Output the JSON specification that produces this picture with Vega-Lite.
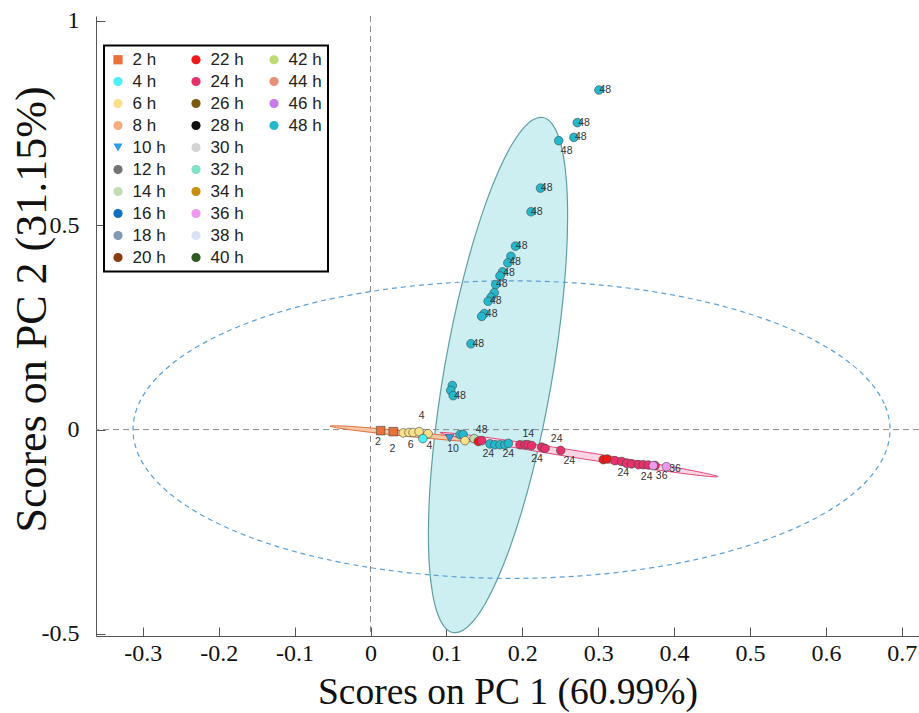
{
  "$schema": "https://vega.github.io/schema/vega-lite/v6.json",
  "width": 823,
  "height": 620,
  "autosize": "none",
  "padding": {"left": 96, "top": 16, "right": 0, "bottom": 77},
  "background": "#ffffff",
  "config": {
    "view": {"stroke": null},
    "legend": {"strokeWidth": 2},
    "axis": {"labelFont": "Liberation Serif", "labelFontSize": 24, "labelColor": "#111111", "titleFont": "Liberation Serif", "titleFontWeight": "normal", "titleColor": "#111111", "grid": false, "domainColor": "#555555", "tickColor": "#555555", "tickSize": -9}
  },
  "datasets": {
    "pts": [
      {"pc1": 0.0134, "pc2": -0.0025, "t": "2 h"},
      {"pc1": 0.030, "pc2": -0.005, "t": "2 h"},
      {"pc1": 0.0432, "pc2": -0.008, "t": "6 h"},
      {"pc1": 0.0507, "pc2": -0.007, "t": "6 h"},
      {"pc1": 0.056, "pc2": -0.007, "t": "6 h"},
      {"pc1": 0.064, "pc2": -0.005, "t": "6 h"},
      {"pc1": 0.0758, "pc2": -0.010, "t": "6 h"},
      {"pc1": 0.069, "pc2": -0.022, "t": "4 h"},
      {"pc1": 0.1043, "pc2": -0.021, "t": "10 h"},
      {"pc1": 0.118, "pc2": -0.012, "t": "48 h"},
      {"pc1": 0.122, "pc2": -0.012, "t": "48 h"},
      {"pc1": 0.1245, "pc2": -0.027, "t": "6 h"},
      {"pc1": 0.1364, "pc2": -0.022, "t": "14 h"},
      {"pc1": 0.142, "pc2": -0.029, "t": "22 h"},
      {"pc1": 0.1465, "pc2": -0.027, "t": "24 h"},
      {"pc1": 0.1574, "pc2": -0.035, "t": "48 h"},
      {"pc1": 0.164, "pc2": -0.037, "t": "48 h"},
      {"pc1": 0.1706, "pc2": -0.037, "t": "48 h"},
      {"pc1": 0.177, "pc2": -0.037, "t": "48 h"},
      {"pc1": 0.1816, "pc2": -0.0336, "t": "48 h"},
      {"pc1": 0.197, "pc2": -0.037, "t": "24 h"},
      {"pc1": 0.2036, "pc2": -0.037, "t": "24 h"},
      {"pc1": 0.2075, "pc2": -0.037, "t": "24 h"},
      {"pc1": 0.2124, "pc2": -0.039, "t": "24 h"},
      {"pc1": 0.2256, "pc2": -0.043, "t": "24 h"},
      {"pc1": 0.230, "pc2": -0.046, "t": "24 h"},
      {"pc1": 0.2506, "pc2": -0.051, "t": "24 h"},
      {"pc1": 0.3067, "pc2": -0.0735, "t": "22 h"},
      {"pc1": 0.312, "pc2": -0.072, "t": "22 h"},
      {"pc1": 0.322, "pc2": -0.076, "t": "24 h"},
      {"pc1": 0.331, "pc2": -0.078, "t": "24 h"},
      {"pc1": 0.3375, "pc2": -0.0826, "t": "24 h"},
      {"pc1": 0.344, "pc2": -0.084, "t": "24 h"},
      {"pc1": 0.353, "pc2": -0.0858, "t": "24 h"},
      {"pc1": 0.3594, "pc2": -0.0858, "t": "24 h"},
      {"pc1": 0.366, "pc2": -0.0865, "t": "24 h"},
      {"pc1": 0.375, "pc2": -0.088, "t": "24 h"},
      {"pc1": 0.3726, "pc2": -0.088, "t": "36 h"},
      {"pc1": 0.390, "pc2": -0.0907, "t": "36 h"},
      {"pc1": 0.301, "pc2": 0.831, "t": "48 h"},
      {"pc1": 0.2725, "pc2": 0.751, "t": "48 h"},
      {"pc1": 0.268, "pc2": 0.715, "t": "48 h"},
      {"pc1": 0.248, "pc2": 0.707, "t": "48 h"},
      {"pc1": 0.224, "pc2": 0.591, "t": "48 h"},
      {"pc1": 0.2115, "pc2": 0.533, "t": "48 h"},
      {"pc1": 0.191, "pc2": 0.449, "t": "48 h"},
      {"pc1": 0.185, "pc2": 0.424, "t": "48 h"},
      {"pc1": 0.181, "pc2": 0.408, "t": "48 h"},
      {"pc1": 0.174, "pc2": 0.386, "t": "48 h"},
      {"pc1": 0.1706, "pc2": 0.376, "t": "48 h"},
      {"pc1": 0.165, "pc2": 0.355, "t": "48 h"},
      {"pc1": 0.163, "pc2": 0.335, "t": "48 h"},
      {"pc1": 0.159, "pc2": 0.324, "t": "48 h"},
      {"pc1": 0.155, "pc2": 0.314, "t": "48 h"},
      {"pc1": 0.150, "pc2": 0.284, "t": "48 h"},
      {"pc1": 0.1465, "pc2": 0.277, "t": "48 h"},
      {"pc1": 0.1324, "pc2": 0.210, "t": "48 h"},
      {"pc1": 0.1078, "pc2": 0.108, "t": "48 h"},
      {"pc1": 0.1057, "pc2": 0.096, "t": "48 h"},
      {"pc1": 0.109, "pc2": 0.083, "t": "48 h"}
    ],
    "lbls": [
      {"pc1": 0.3094, "pc2": 0.831, "txt": "48"},
      {"pc1": 0.2813, "pc2": 0.751, "txt": "48"},
      {"pc1": 0.277, "pc2": 0.715, "txt": "48"},
      {"pc1": 0.2585, "pc2": 0.681, "txt": "48"},
      {"pc1": 0.2321, "pc2": 0.591, "txt": "48"},
      {"pc1": 0.219, "pc2": 0.533, "txt": "48"},
      {"pc1": 0.1992, "pc2": 0.449, "txt": "48"},
      {"pc1": 0.1904, "pc2": 0.409, "txt": "48"},
      {"pc1": 0.1825, "pc2": 0.383, "txt": "48"},
      {"pc1": 0.1729, "pc2": 0.3554, "txt": "48"},
      {"pc1": 0.165, "pc2": 0.3137, "txt": "48"},
      {"pc1": 0.1597, "pc2": 0.2836, "txt": "48"},
      {"pc1": 0.142, "pc2": 0.2105, "txt": "48"},
      {"pc1": 0.1179, "pc2": 0.0833, "txt": "48"},
      {"pc1": 0.0675, "pc2": 0.033, "txt": "4"},
      {"pc1": 0.0099, "pc2": -0.0306, "txt": "2"},
      {"pc1": 0.029, "pc2": -0.0466, "txt": "2"},
      {"pc1": 0.053, "pc2": -0.038, "txt": "6"},
      {"pc1": 0.0777, "pc2": -0.0392, "txt": "4"},
      {"pc1": 0.1087, "pc2": -0.0466, "txt": "10"},
      {"pc1": 0.1465, "pc2": -0.0012, "txt": "48"},
      {"pc1": 0.1552, "pc2": -0.0596, "txt": "24"},
      {"pc1": 0.1816, "pc2": -0.0596, "txt": "24"},
      {"pc1": 0.2079, "pc2": -0.0105, "txt": "14"},
      {"pc1": 0.2194, "pc2": -0.0718, "txt": "24"},
      {"pc1": 0.2453, "pc2": -0.0228, "txt": "24"},
      {"pc1": 0.2619, "pc2": -0.076, "txt": "24"},
      {"pc1": 0.3331, "pc2": -0.1071, "txt": "24"},
      {"pc1": 0.3639, "pc2": -0.1169, "txt": "24"},
      {"pc1": 0.3837, "pc2": -0.1127, "txt": "36"},
      {"pc1": 0.4012, "pc2": -0.0963, "txt": "36"}
    ],
    "bigEll": [
      {"i": 0, "pc1": 0.6845, "pc2": 0},
      {"i": 1, "pc1": 0.6769, "pc2": 0.0632},
      {"i": 2, "pc1": 0.6544, "pc2": 0.1245},
      {"i": 3, "pc1": 0.6177, "pc2": 0.182},
      {"i": 4, "pc1": 0.5678, "pc2": 0.234},
      {"i": 5, "pc1": 0.5064, "pc2": 0.2788},
      {"i": 6, "pc1": 0.4352, "pc2": 0.3152},
      {"i": 7, "pc1": 0.3564, "pc2": 0.342},
      {"i": 8, "pc1": 0.2724, "pc2": 0.3585},
      {"i": 9, "pc1": 0.1858, "pc2": 0.364},
      {"i": 10, "pc1": 0.0992, "pc2": 0.3585},
      {"i": 11, "pc1": 0.0152, "pc2": 0.342},
      {"i": 12, "pc1": -0.0636, "pc2": 0.3152},
      {"i": 13, "pc1": -0.1348, "pc2": 0.2788},
      {"i": 14, "pc1": -0.1962, "pc2": 0.234},
      {"i": 15, "pc1": -0.2461, "pc2": 0.182},
      {"i": 16, "pc1": -0.2828, "pc2": 0.1245},
      {"i": 17, "pc1": -0.3053, "pc2": 0.0632},
      {"i": 18, "pc1": -0.3129, "pc2": 0},
      {"i": 19, "pc1": -0.3053, "pc2": -0.0632},
      {"i": 20, "pc1": -0.2828, "pc2": -0.1245},
      {"i": 21, "pc1": -0.2461, "pc2": -0.182},
      {"i": 22, "pc1": -0.1962, "pc2": -0.234},
      {"i": 23, "pc1": -0.1348, "pc2": -0.2788},
      {"i": 24, "pc1": -0.0636, "pc2": -0.3152},
      {"i": 25, "pc1": 0.0152, "pc2": -0.342},
      {"i": 26, "pc1": 0.0992, "pc2": -0.3585},
      {"i": 27, "pc1": 0.1858, "pc2": -0.364},
      {"i": 28, "pc1": 0.2724, "pc2": -0.3585},
      {"i": 29, "pc1": 0.3564, "pc2": -0.342},
      {"i": 30, "pc1": 0.4352, "pc2": -0.3152},
      {"i": 31, "pc1": 0.5064, "pc2": -0.2788},
      {"i": 32, "pc1": 0.5678, "pc2": -0.234},
      {"i": 33, "pc1": 0.6177, "pc2": -0.182},
      {"i": 34, "pc1": 0.6544, "pc2": -0.1245},
      {"i": 35, "pc1": 0.6769, "pc2": -0.0632}
    ],
    "cyanEll": [
      {"i": 0, "pc1": 0.2272, "pc2": 0.7637},
      {"i": 1, "pc1": 0.2384, "pc2": 0.7501},
      {"i": 2, "pc1": 0.2476, "pc2": 0.7179},
      {"i": 3, "pc1": 0.2543, "pc2": 0.6679},
      {"i": 4, "pc1": 0.2584, "pc2": 0.6017},
      {"i": 5, "pc1": 0.2597, "pc2": 0.5212},
      {"i": 6, "pc1": 0.2583, "pc2": 0.429},
      {"i": 7, "pc1": 0.2541, "pc2": 0.3277},
      {"i": 8, "pc1": 0.2473, "pc2": 0.2206},
      {"i": 9, "pc1": 0.2381, "pc2": 0.1108},
      {"i": 10, "pc1": 0.2268, "pc2": 0.0018},
      {"i": 11, "pc1": 0.2136, "pc2": -0.1033},
      {"i": 12, "pc1": 0.1991, "pc2": -0.2012},
      {"i": 13, "pc1": 0.1837, "pc2": -0.2888},
      {"i": 14, "pc1": 0.1677, "pc2": -0.3637},
      {"i": 15, "pc1": 0.1518, "pc2": -0.4235},
      {"i": 16, "pc1": 0.1364, "pc2": -0.4663},
      {"i": 17, "pc1": 0.1219, "pc2": -0.4909},
      {"i": 18, "pc1": 0.1088, "pc2": -0.4965},
      {"i": 19, "pc1": 0.0976, "pc2": -0.483},
      {"i": 20, "pc1": 0.0884, "pc2": -0.4507},
      {"i": 21, "pc1": 0.0817, "pc2": -0.4007},
      {"i": 22, "pc1": 0.0776, "pc2": -0.3345},
      {"i": 23, "pc1": 0.0763, "pc2": -0.254},
      {"i": 24, "pc1": 0.0777, "pc2": -0.1618},
      {"i": 25, "pc1": 0.0819, "pc2": -0.0605},
      {"i": 26, "pc1": 0.0887, "pc2": 0.0466},
      {"i": 27, "pc1": 0.0979, "pc2": 0.1564},
      {"i": 28, "pc1": 0.1092, "pc2": 0.2654},
      {"i": 29, "pc1": 0.1224, "pc2": 0.3705},
      {"i": 30, "pc1": 0.1369, "pc2": 0.4684},
      {"i": 31, "pc1": 0.1523, "pc2": 0.556},
      {"i": 32, "pc1": 0.1683, "pc2": 0.6309},
      {"i": 33, "pc1": 0.1842, "pc2": 0.6907},
      {"i": 34, "pc1": 0.1996, "pc2": 0.7335},
      {"i": 35, "pc1": 0.2141, "pc2": 0.7581}
    ],
    "orangeEll": [
      {"i": 0, "pc1": 0.1509, "pc2": -0.0294},
      {"i": 1, "pc1": 0.1207, "pc2": -0.0282},
      {"i": 2, "pc1": 0.0484, "pc2": -0.0165},
      {"i": 3, "pc1": -0.0237, "pc2": -0.0012},
      {"i": 4, "pc1": -0.0534, "pc2": 0.0086},
      {"i": 5, "pc1": -0.0232, "pc2": 0.0074},
      {"i": 6, "pc1": 0.0491, "pc2": -0.0043},
      {"i": 7, "pc1": 0.1212, "pc2": -0.0196}
    ],
    "pinkEll": [
      {"i": 0, "pc1": 0.4578, "pc2": -0.1152},
      {"i": 1, "pc1": 0.4037, "pc2": -0.1054},
      {"i": 2, "pc1": 0.274, "pc2": -0.0698},
      {"i": 3, "pc1": 0.1447, "pc2": -0.0292},
      {"i": 4, "pc1": 0.0916, "pc2": -0.0074},
      {"i": 5, "pc1": 0.1457, "pc2": -0.0172},
      {"i": 6, "pc1": 0.2754, "pc2": -0.0528},
      {"i": 7, "pc1": 0.4047, "pc2": -0.0934}
    ],
    "vrule": [{"pc1": 0}],
    "hrule": [{"pc2": 0}]
  },
  "layer": [
    {
      "data": {"name": "cyanEll"},
      "mark": {"type": "line", "interpolate": "cardinal-closed", "fill": "#cdeff2", "stroke": "#5f9ea3", "strokeWidth": 1.2},
      "encoding": {
        "x": {"field": "pc1", "type": "quantitative", "scale": {"domain": [-0.3617, 0.7227], "nice": false, "zero": false},
          "axis": {"title": "Scores on PC 1 (60.99%)", "values": [-0.3, -0.2, -0.1, 0, 0.1, 0.2, 0.3, 0.4, 0.5, 0.6, 0.7], "labelExpr": "'' + datum.value", "labelPadding": 14, "titleFontSize": 37.5, "titleBaseline": "middle", "titleY": 56, "labelFlush": false, "labelOverlap": false}},
        "y": {"field": "pc2", "type": "quantitative", "scale": {"domain": [-0.505, 1.012], "nice": false, "zero": false},
          "axis": {"title": "Scores on PC 2 (31.15%)", "values": [-0.5, 0, 0.5, 1], "labelExpr": "'' + datum.value", "labelPadding": 26, "titleFontSize": 44, "titleAngle": -90, "titleAlign": "center", "titleBaseline": "middle", "titleX": -64, "titleY": 293, "labelFlush": false, "labelOverlap": false}},
        "order": {"field": "i", "type": "quantitative"}
      }
    },
    {
      "data": {"name": "vrule"},
      "mark": {"type": "rule", "color": "#8a8a8a", "strokeDash": [6, 4], "strokeWidth": 1},
      "encoding": {"x": {"field": "pc1", "type": "quantitative", "scale": {"domain": [-0.3617, 0.7227], "nice": false, "zero": false}}}
    },
    {
      "data": {"name": "hrule"},
      "mark": {"type": "rule", "color": "#8a8a8a", "strokeDash": [6, 4], "strokeWidth": 1},
      "encoding": {"y": {"field": "pc2", "type": "quantitative", "scale": {"domain": [-0.505, 1.012], "nice": false, "zero": false}}}
    },
    {
      "data": {"name": "bigEll"},
      "mark": {"type": "line", "interpolate": "cardinal-closed", "stroke": "#5a9fd6", "strokeWidth": 1.2, "strokeDash": [5, 4]},
      "encoding": {
        "x": {"field": "pc1", "type": "quantitative", "scale": {"domain": [-0.3617, 0.7227], "nice": false, "zero": false}},
        "y": {"field": "pc2", "type": "quantitative", "scale": {"domain": [-0.505, 1.012], "nice": false, "zero": false}},
        "order": {"field": "i", "type": "quantitative"}
      }
    },
    {
      "data": {"name": "orangeEll"},
      "mark": {"type": "line", "interpolate": "cardinal-closed", "fill": "#f6c8a8", "stroke": "#e2703a", "strokeWidth": 1},
      "encoding": {
        "x": {"field": "pc1", "type": "quantitative", "scale": {"domain": [-0.3617, 0.7227], "nice": false, "zero": false}},
        "y": {"field": "pc2", "type": "quantitative", "scale": {"domain": [-0.505, 1.012], "nice": false, "zero": false}},
        "order": {"field": "i", "type": "quantitative"}
      }
    },
    {
      "data": {"name": "pinkEll"},
      "mark": {"type": "line", "interpolate": "cardinal-closed", "fill": "#fbd6e2", "stroke": "#e4487a", "strokeWidth": 1},
      "encoding": {
        "x": {"field": "pc1", "type": "quantitative", "scale": {"domain": [-0.3617, 0.7227], "nice": false, "zero": false}},
        "y": {"field": "pc2", "type": "quantitative", "scale": {"domain": [-0.505, 1.012], "nice": false, "zero": false}},
        "order": {"field": "i", "type": "quantitative"}
      }
    },
    {
      "data": {"name": "pts"},
      "mark": {"type": "point", "filled": true, "stroke": "#3a4a4a", "strokeWidth": 0.6, "opacity": 1, "size": 75},
      "encoding": {
        "x": {"field": "pc1", "type": "quantitative", "scale": {"domain": [-0.3617, 0.7227], "nice": false, "zero": false}},
        "y": {"field": "pc2", "type": "quantitative", "scale": {"domain": [-0.505, 1.012], "nice": false, "zero": false}},
        "color": {"field": "t", "type": "nominal",
          "scale": {"domain": ["2 h","4 h","6 h","8 h","10 h","12 h","14 h","16 h","18 h","20 h","22 h","24 h","26 h","28 h","30 h","32 h","34 h","36 h","38 h","40 h","42 h","44 h","46 h","48 h","d1","d2","d3","d4","d5","d6"],
            "range": ["#E8703A","#4DF0F5","#FBE08A","#F2AD80","#2E9FE0","#737373","#BFDDB0","#1070C0","#8098B0","#8B3A10","#F01818","#E8306A","#7A5A10","#111111","#D3D3D3","#80E0C8","#C8900A","#EE99EE","#D8E4F4","#2F5A22","#C0DA78","#E8907A","#C87AE8","#25B8CC","rgba(0,0,0,0)","rgba(0,0,0,0)","rgba(0,0,0,0)","rgba(0,0,0,0)","rgba(0,0,0,0)","rgba(0,0,0,0)"]},
          "legend": {"title": null, "orient": "none", "legendX": 8, "legendY": 29.5, "columns": 3, "gridAlign": "all", "columnPadding": 21, "rowPadding": 4, "symbolSize": 85, "symbolStrokeWidth": 0, "labelFont": "Liberation Sans", "labelFontSize": 17, "labelColor": "#222222", "labelOffset": 6, "padding": 5.5, "strokeColor": "#000000", "fillColor": "#ffffff", "labelExpr": "indexof(datum.label, 'h') >= 0 ? datum.label : ''"}},
        "shape": {"field": "t", "type": "nominal",
          "scale": {"domain": ["2 h","4 h","6 h","8 h","10 h","12 h","14 h","16 h","18 h","20 h","22 h","24 h","26 h","28 h","30 h","32 h","34 h","36 h","38 h","40 h","42 h","44 h","46 h","48 h","d1","d2","d3","d4","d5","d6"],
            "range": ["square","circle","circle","circle","triangle-down","circle","circle","circle","circle","circle","circle","circle","circle","circle","circle","circle","circle","circle","circle","circle","circle","circle","circle","circle","circle","circle","circle","circle","circle","circle"]},
          "legend": {"title": null, "orient": "none", "legendX": 8, "legendY": 29.5, "columns": 3, "gridAlign": "all", "columnPadding": 21, "rowPadding": 4, "symbolSize": 85, "symbolStrokeWidth": 0, "labelFont": "Liberation Sans", "labelFontSize": 17, "labelColor": "#222222", "labelOffset": 6, "padding": 5.5, "strokeColor": "#000000", "fillColor": "#ffffff", "labelExpr": "indexof(datum.label, 'h') >= 0 ? datum.label : ''"}}
      }
    },
    {
      "data": {"name": "lbls"},
      "mark": {"type": "text", "font": "Liberation Sans", "fontSize": 10.5, "color": "#333333", "align": "center", "baseline": "middle"},
      "encoding": {
        "x": {"field": "pc1", "type": "quantitative", "scale": {"domain": [-0.3617, 0.7227], "nice": false, "zero": false}},
        "y": {"field": "pc2", "type": "quantitative", "scale": {"domain": [-0.505, 1.012], "nice": false, "zero": false}},
        "text": {"field": "txt", "type": "nominal"}
      }
    }
  ]
}
